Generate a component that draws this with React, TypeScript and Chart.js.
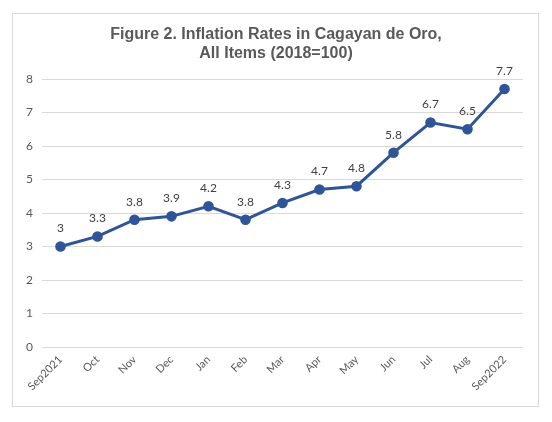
import React, { useEffect, useRef } from "react";
import { Chart, registerables } from "chart.js";

Chart.register(...registerables);

const categories = ["Sep2021", "Oct", "Nov", "Dec", "Jan", "Feb", "Mar", "Apr", "May", "Jun", "Jul", "Aug", "Sep2022"];
const inflation = [3, 3.3, 3.8, 3.9, 4.2, 3.8, 4.3, 4.7, 4.8, 5.8, 6.7, 6.5, 7.7];
const titleLines = ["Figure 2. Inflation Rates in Cagayan de Oro,", "All Items (2018=100)"];
const yMin = 0;
const yMax = 8;

const LINE_COLOR = "#2F5597";
const TEXT_COLOR = "#595959";
const GRID_COLOR = "#D9D9D9";
const FONT = "Lato, 'Open Sans', sans-serif";

const borderPlugin = {
  id: "outerBorder",
  beforeDraw(chart: any) {
    const ctx = chart.ctx;
    ctx.save();
    ctx.fillStyle = "#ffffff";
    ctx.fillRect(0, 0, chart.width, chart.height);
    ctx.strokeStyle = GRID_COLOR;
    ctx.lineWidth = 1;
    ctx.strokeRect(12.5, 13.5, 526, 393);
    ctx.restore();
  },
};

const titlePlugin = {
  id: "centeredTitle",
  afterDraw(chart: any) {
    const ctx = chart.ctx;
    ctx.save();
    ctx.font = "bold 16px 'Liberation Sans', Arial, sans-serif";
    ctx.fillStyle = TEXT_COLOR;
    ctx.textAlign = "center";
    ctx.textBaseline = "alphabetic";
    const cx = chart.width / 2;
    titleLines.forEach((line, i) => {
      ctx.fillText(line, cx, 39 + i * 18.7);
    });
    ctx.restore();
  },
};

const dataLabelPlugin = {
  id: "dataLabels",
  afterDatasetsDraw(chart: any) {
    const ctx = chart.ctx;
    const meta = chart.getDatasetMeta(0);
    const data = chart.data.datasets[0].data;
    ctx.save();
    ctx.font = `12px ${FONT}`;
    ctx.fillStyle = "#404040";
    ctx.textAlign = "center";
    ctx.textBaseline = "middle";
    meta.data.forEach((pt: any, i: number) => {
      ctx.fillText(String(data[i]), pt.x, pt.y - 18);
    });
    ctx.restore();
  },
};

export default function App() {
  const ref = useRef<HTMLCanvasElement | null>(null);
  useEffect(() => {
    if (!ref.current) return;
    const chart = new Chart(ref.current, {
      type: "line",
      data: {
        labels: categories,
        datasets: [
          {
            data: inflation,
            borderColor: LINE_COLOR,
            backgroundColor: LINE_COLOR,
            borderWidth: 3,
            pointRadius: 3.8,
            pointBackgroundColor: LINE_COLOR,
            pointBorderColor: LINE_COLOR,
            tension: 0,
          },
        ],
      },
      options: {
        animation: false,
        responsive: true,
        maintainAspectRatio: false,
        layout: { padding: { left: 12, right: 29, top: 79, bottom: 15 } },
        plugins: {
          legend: { display: false },
          tooltip: { enabled: false },
          title: { display: false },
        },
        scales: {
          x: {
            type: "category",
            offset: true,
            grid: { display: false, drawTicks: false },
            border: { display: false },
            ticks: {
              color: TEXT_COLOR,
              font: { family: FONT, size: 11 },
              minRotation: 45,
              maxRotation: 45,
              padding: 6,
              autoSkip: false,
            },
            afterFit(scale: any) {
              scale.height = 60;
            },
          },
          y: {
            min: yMin,
            max: yMax,
            grid: { color: GRID_COLOR, drawTicks: false, lineWidth: 1 },
            border: { display: false },
            ticks: {
              stepSize: 1,
              color: TEXT_COLOR,
              font: { family: FONT, size: 12 },
              padding: 9,
            },
            afterFit(scale: any) {
              scale.width = 30;
            },
          },
        },
      },
      plugins: [borderPlugin, dataLabelPlugin, titlePlugin],
    });
    return () => chart.destroy();
  }, []);
  return (
    <div style={{ position: "absolute", left: 0, top: 0, width: 552, height: 422 }}>
      <canvas ref={ref} />
    </div>
  );
}
